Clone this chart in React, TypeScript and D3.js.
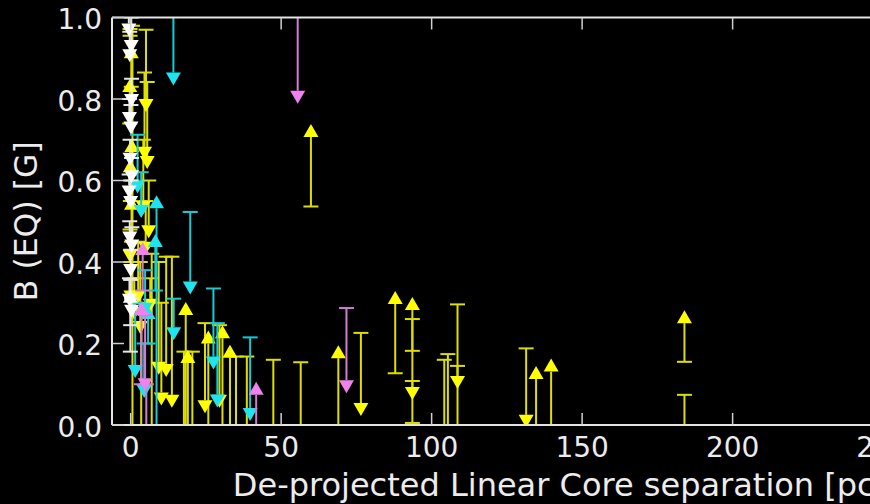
import React, { useEffect, useRef } from 'react'
import * as d3 from 'd3'

// [x, cap, arrow] : arrow above cap = lower limit (up caret), below = upper limit (down caret)
const yellowLimits: [number, number, number][] = [
    [0.6, 0.98, -0.05], [0.2, 0.83, 0.90], [-0.3, 0.74, 0.817], [0.4, 0.60, 0.67],
    [-0.1, 0.55, 0.62], [0.3, 0.45, 0.528], [-0.2, 0.48, 0.43], [0.1, 0.40, 0.33],
    [1.2, 0.36, 0.29],
    [5.1, 0.97, 0.80], [4.6, 0.865, 0.683], [5.5, 0.842, 0.66], [4.2, 0.70, 0.55],
    [6.0, 0.60, 0.49], [5.0, 0.55, 0.45], [2.5, 0.45, 0.33], [3.2, 0.40, 0.255],
    [6.5, 0.36, 0.31], [3.5, 0.30, -0.05], [7.0, 0.42, -0.05],
    [9.3, 0.40, 0.155], [10.2, 0.30, 0.08], [11.8, 0.413, 0.15], [13.7, 0.413, 0.074],
    [18.3, -0.02, 0.27], [19.0, -0.02, 0.152], [17.7, 0.18, -0.05], [20.5, 0.18, -0.05],
    [24.7, 0.25, 0.061], [25.8, -0.02, 0.20], [29.5, 0.245, 0.074], [30.5, -0.02, 0.213],
    [33.0, -0.02, 0.165], [35.0, 0.168, -0.05], [38.6, 0.168, -0.05],
    [47.4, 0.16, -0.06], [56.5, 0.154, -0.05], [59.9, 0.536, 0.707], [69.0, -0.02, 0.164],
    [76.5, 0.226, 0.054], [87.9, 0.127, 0.297], [93.6, 0.182, 0.282], [93.6, 0.26, 0.093],
    [104.2, 0.16, -0.05], [105.4, 0.174, -0.05], [108.6, 0.296, 0.12], [108.6, 0.145, -0.05],
    [131.4, 0.188, 0.025], [134.7, -0.02, 0.113], [139.7, -0.02, 0.131],
    [184.0, 0.155, 0.25], [184.0, 0.074, -0.05],
]

// [x, low, high] : plain error bars with caps at both ends
const yellowBars: [number, number, number][] = [
    [-0.2, 0.955, 0.972], [93.6, 0.005, 0.108],
]

const cyanLimits: [number, number, number][] = [
    [14.2, 1.05, 0.865], [19.8, 0.523, 0.352], [27.5, 0.335, 0.168], [28.8, 0.25, 0.075],
    [39.7, 0.215, 0.042], [14.3, 0.31, 0.24], [2.3, 0.712, 0.60], [3.5, 0.62, 0.54],
    [8.6, -0.02, 0.532], [8.2, 0.33, 0.437], [4.8, 0.38, 0.30], [5.8, 0.20, 0.26],
    [1.5, 0.30, 0.147], [4.5, 0.20, 0.098],
]

const violetLimits: [number, number, number][] = [
    [55.5, 1.05, 0.82], [71.7, 0.287, 0.11], [41.7, -0.02, 0.074],
    [4.0, 0.33, 0.417], [3.6, 0.10, 0.27], [4.8, 0.27, 0.115], [5.2, 0.10, -0.05],
]

const whiteLimits: [number, number, number][] = [
    [-0.6, 1.03, 0.985], [0.2, 1.0, 0.945], [-0.3, 0.965, 0.922], [0.3, 0.85, 0.812],
    [-0.4, 0.80, 0.768], [0.1, 0.785, 0.745], [-0.2, 0.70, 0.668], [0.3, 0.655, 0.625],
    [-0.5, 0.615, 0.588], [0.0, 0.60, 0.562], [-0.3, 0.50, 0.475], [0.4, 0.485, 0.455],
    [0.0, 0.43, 0.395], [-0.4, 0.36, 0.322], [0.3, 0.31, 0.295], [-0.1, 0.18, 0.30],
]

const whiteBars: [number, number, number][] = [
    [0.0, 0.245, 0.356],
]

const xTicks = [0, 50, 100, 150, 200, 250]
const yTicks = [0, 0.2, 0.4, 0.6, 0.8, 1.0]

const series = [
    { limits: yellowLimits, bars: yellowBars, line: '#dede00', fill: '#ffff00' },
    { limits: cyanLimits, bars: [] as [number, number, number][], line: '#17cbd6', fill: '#1fe3ee' },
    { limits: violetLimits, bars: [] as [number, number, number][], line: '#d57ad5', fill: '#ee82ee' },
    { limits: whiteLimits, bars: whiteBars, line: '#e6e6e6', fill: '#ffffff' },
]

export default function App() {
    const svgRef = useRef<SVGSVGElement>(null)
    const width = 870
    const height = 504

    useEffect(() => {
        if (!svgRef.current) return
        const svg = d3.select(svgRef.current)
        svg.selectAll("*").remove()

        const left = 112, right = 1008, top = 17.5, bottom = 425
        const x = d3.scaleLinear().domain([-6.2, 291.5]).range([left, right])
        const y = d3.scaleLinear().domain([0, 1]).range([bottom, top])
        const font = "DejaVu Sans, sans-serif"
        const textColor = "#ececec"

        svg.append("rect").attr("width", width).attr("height", height).attr("fill", "#000")

        svg.append("clipPath").attr("id", "plot-clip")
            .append("rect")
            .attr("x", left).attr("y", top)
            .attr("width", right - left).attr("height", bottom - top)

        const plot = svg.append("g").attr("clip-path", "url(#plot-clip)")

        const capW = 7.5, triW = 7.5, triH = 13

        series.forEach(s => {
            const g = plot.append("g")
            // error bar lines
            g.selectAll(".lim-line").data(s.limits).enter().append("line")
                .attr("x1", d => x(d[0])).attr("x2", d => x(d[0]))
                .attr("y1", d => y(d[1])).attr("y2", d => y(d[2]))
                .attr("stroke", s.line).attr("stroke-width", 2)
            g.selectAll(".bar-line").data(s.bars).enter().append("line")
                .attr("x1", d => x(d[0])).attr("x2", d => x(d[0]))
                .attr("y1", d => y(d[1])).attr("y2", d => y(d[2]))
                .attr("stroke", s.line).attr("stroke-width", 2)
            // caps
            const caps = [
                ...s.limits.map(d => [d[0], d[1]]),
                ...s.bars.flatMap(d => [[d[0], d[1]], [d[0], d[2]]]),
            ]
            g.selectAll(".cap").data(caps).enter().append("line")
                .attr("x1", d => x(d[0]) - capW).attr("x2", d => x(d[0]) + capW)
                .attr("y1", d => y(d[1])).attr("y2", d => y(d[1]))
                .attr("stroke", s.line).attr("stroke-width", 2)
            // carets, base on the limit end
            g.selectAll(".caret").data(s.limits).enter().append("path")
                .attr("d", d => {
                    const cx = x(d[0]), by = y(d[2])
                    const dir = d[2] > d[1] ? -1 : 1
                    return `M${cx - triW},${by}L${cx + triW},${by}L${cx},${by + dir * triH}Z`
                })
                .attr("fill", s.fill)
        })

        // spines
        const axisColor = "#e4e4e4"
        svg.append("line").attr("x1", left).attr("x2", right).attr("y1", top).attr("y2", top)
            .attr("stroke", axisColor).attr("stroke-width", 2)
        svg.append("line").attr("x1", left).attr("x2", right).attr("y1", bottom).attr("y2", bottom)
            .attr("stroke", axisColor).attr("stroke-width", 2)
        svg.append("line").attr("x1", left).attr("x2", left).attr("y1", top).attr("y2", bottom)
            .attr("stroke", axisColor).attr("stroke-width", 2)

        // ticks pointing in
        const tickLen = 12
        const tickColor = "#cfcfcf"
        xTicks.forEach(t => {
            svg.append("line").attr("x1", x(t)).attr("x2", x(t)).attr("y1", bottom).attr("y2", bottom - tickLen)
                .attr("stroke", tickColor).attr("stroke-width", 1.5)
            svg.append("line").attr("x1", x(t)).attr("x2", x(t)).attr("y1", top).attr("y2", top + tickLen)
                .attr("stroke", tickColor).attr("stroke-width", 1.5)
            svg.append("text").attr("x", x(t)).attr("y", 457)
                .attr("text-anchor", "middle").attr("font-family", font).attr("font-size", 28)
                .attr("fill", textColor).text(String(t))
        })
        yTicks.forEach(t => {
            svg.append("line").attr("x1", left).attr("x2", left + tickLen).attr("y1", y(t)).attr("y2", y(t))
                .attr("stroke", tickColor).attr("stroke-width", 1.5)
            svg.append("text").attr("x", 102).attr("y", y(t) + 11.5)
                .attr("text-anchor", "end").attr("font-family", font).attr("font-size", 28)
                .attr("fill", textColor).text(t.toFixed(1))
        })

        // axis labels
        svg.append("text").attr("x", (left + right) / 2).attr("y", 496)
            .attr("text-anchor", "middle").attr("font-family", font).attr("font-size", 32)
            .attr("fill", textColor).text("De-projected Linear Core separation [pc]")
        svg.append("text").attr("transform", `translate(37,${(top + bottom) / 2}) rotate(-90)`)
            .attr("text-anchor", "middle").attr("font-family", font).attr("font-size", 31.5)
            .attr("fill", textColor).text("B (EQ) [G]")
    }, [])

    return (
        <div style={{ position: 'absolute', left: 0, top: 0, width, height, overflow: 'hidden', background: '#000' }}>
            <svg ref={svgRef} width={width} height={height} viewBox={`0 0 ${width} ${height}`} style={{ display: 'block' }} />
        </div>
    )
}
